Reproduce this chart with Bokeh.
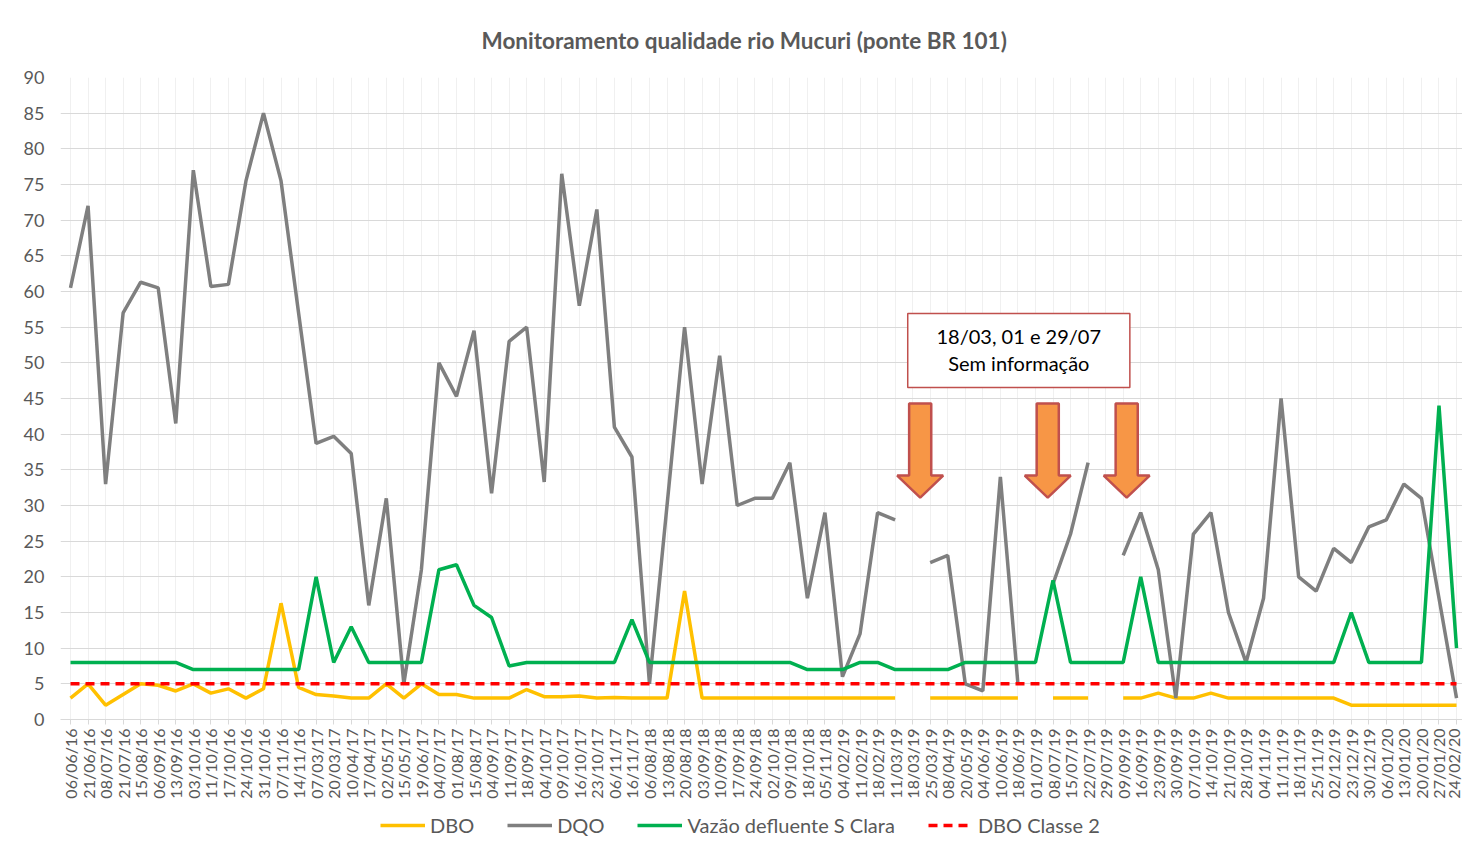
import numpy as np
from bokeh.plotting import figure
from bokeh.layouts import column
from bokeh.models import Legend, LegendItem, FixedTicker, Range1d, ColumnDataSource, Label
from bokeh.embed import file_html
from bokeh.resources import INLINE

# ---------------- data ----------------
dates = ["06/06/16", "21/06/16", "08/07/16", "21/07/16", "15/08/16", "06/09/16", "13/09/16",
         "03/10/16", "11/10/16", "17/10/16", "24/10/16", "31/10/16", "07/11/16", "14/11/16",
         "07/03/17", "20/03/17", "10/04/17", "17/04/17", "02/05/17", "15/05/17", "19/06/17",
         "04/07/17", "01/08/17", "15/08/17", "04/09/17", "11/09/17", "18/09/17", "04/10/17",
         "09/10/17", "16/10/17", "23/10/17", "06/11/17", "16/11/17", "06/08/18", "13/08/18",
         "20/08/18", "03/09/18", "10/09/18", "17/09/18", "24/09/18", "02/10/18", "09/10/18",
         "18/10/18", "05/11/18", "04/02/19", "11/02/19", "18/02/19", "11/03/19", "18/03/19",
         "25/03/19", "08/04/19", "20/05/19", "04/06/19", "10/06/19", "18/06/19", "01/07/19",
         "08/07/19", "15/07/19", "22/07/19", "29/07/19", "09/09/19", "16/09/19", "23/09/19",
         "30/09/19", "07/10/19", "14/10/19", "21/10/19", "28/10/19", "04/11/19", "11/11/19",
         "18/11/19", "25/11/19", "02/12/19", "23/12/19", "30/12/19", "06/01/20", "13/01/20",
         "20/01/20", "27/01/20", "24/02/20"]

dbo = [3, 5, 2, 3.5, 5, 4.8, 4, 5, 3.7, 4.3, 3, 4.3, 16.3, 4.5,
       3.5, 3.3, 3, 3, 5, 3, 5,
       3.5, 3.5, 3, 3, 3, 4.2, 3.2, 3.2, 3.3, 3, 3.1, 3,
       3, 3, 18, 3, 3, 3, 3, 3, 3, 3, 3, 3, 3, 3, 3,
       None, 3, 3, 3, 3, 3, 3, None, 3, 3, 3, None,
       3, 3, 3.7, 3, 3, 3.7, 3, 3, 3, 3, 3, 3, 3, 2, 2, 2, 2, 2, 2, 2]

dqo = [60.5, 72, 33, 57, 61.3, 60.5, 41.5, 77, 60.7, 61, 75.5, 85, 75.5, 57,
       38.7, 39.7, 37.3, 16, 31, 5, 21,
       50, 45.3, 54.5, 31.7, 53, 55, 33.3, 76.5, 58, 71.5, 41, 36.8,
       5, 30, 55, 33, 51, 30, 31, 31, 36, 17, 29, 6, 12, 29, 28,
       None, 22, 23, 5, 4, 34, 5, None, 19, 26, 36, None,
       23, 29, 21, 3, 26, 29, 15, 8, 17, 45, 20, 18, 24, 22, 27, 28, 33, 31, 17, 3]

vazao = [8, 8, 8, 8, 8, 8, 8, 7, 7, 7, 7, 7, 7, 7,
         20, 8, 13, 8, 8, 8, 8,
         21, 21.7, 16, 14.3, 7.5, 8, 8, 8, 8, 8, 8, 14,
         8, 8, 8, 8, 8, 8, 8, 8, 8, 7, 7, 7, 8, 8, 7,
         7, 7, 7, 8, 8, 8, 8, 8, 19.5, 8, 8, 8,
         8, 20, 8, 8, 8, 8, 8, 8, 8, 8, 8, 8, 8, 15, 8, 8, 8, 8, 44, 10]

dbo_classe2 = [5] * len(dates)

series_names = ["DBO", "DQO", "Vazão defluente S Clara", "DBO Classe 2"]
series_colors = ["#FFC000", "#7F7F7F", "#00B050", "#FF0000"]
series_dash = ["solid", "solid", "solid", "9 6"]
title_text = "Monitoramento qualidade rio Mucuri (ponte BR 101)"
note_lines = ["18/03, 01 e 29/07", "Sem informação"]
arrow_pos = [48.43, 55.7, 60.2]

# ---------------- main figure ----------------
def nanify(a):
    return [np.nan if v is None else v for v in a]

idx = list(range(len(dates)))
src = ColumnDataSource(dict(x=idx, dbo=nanify(dbo), dqo=nanify(dqo),
                            vazao=nanify(vazao), c2=dbo_classe2))

p = figure(frame_width=1402, frame_height=642, x_range=Range1d(-0.57, 79.34), y_range=Range1d(0, 90),
           output_backend="svg", toolbar_location=None,
           min_border_left=60, min_border_right=0, min_border_top=77, min_border_bottom=0)
p.outline_line_color = None
p.background_fill_color = "white"
p.border_fill_color = "white"

p.title.text = title_text
p.title.text_font = "Lato"
p.title.text_font_size = "22.5px"
p.title.text_font_style = "bold"
p.title.text_color = "#595959"
p.title.align = "left"
p.title.offset = 421
p.title.standoff = 47

# grids
p.ygrid.ticker = FixedTicker(ticks=list(range(0, 91, 5)))
p.ygrid.grid_line_color = "#D9D9D9"
p.ygrid.grid_line_width = 1
p.xgrid.ticker = FixedTicker(ticks=idx)
p.xgrid.grid_line_color = "#F0F0F0"
p.xgrid.grid_line_width = 1

# axes
p.yaxis.ticker = FixedTicker(ticks=list(range(0, 91, 5)))
p.yaxis.axis_line_color = None
p.yaxis.major_tick_line_color = None
p.yaxis.minor_tick_line_color = None
p.yaxis.major_label_standoff = 10
p.yaxis.major_label_text_font = "Lato"
p.yaxis.major_label_text_font_size = "18px"
p.yaxis.major_label_text_color = "#595959"

p.xaxis.ticker = FixedTicker(ticks=idx)
p.xaxis.major_label_overrides = {i: d for i, d in enumerate(dates)}
p.xaxis.major_label_orientation = np.pi / 2
p.xaxis.axis_line_color = "#D9D9D9"
p.xaxis.major_tick_line_color = "#D9D9D9"
p.xaxis.major_tick_in = 0
p.xaxis.major_tick_out = 5
p.xaxis.minor_tick_line_color = None
p.xaxis.major_label_standoff = 4
p.xaxis.major_label_text_font = "Lato"
p.xaxis.major_label_text_font_size = "16px"
p.xaxis.major_label_text_color = "#595959"

# series
p.line("x", "dbo", source=src, line_color=series_colors[0], line_width=3.5)
p.line("x", "dqo", source=src, line_color=series_colors[1], line_width=3.5)
p.line("x", "vazao", source=src, line_color=series_colors[2], line_width=3.5)
p.line("x", "c2", source=src, line_color=series_colors[3], line_width=3.5, line_dash=series_dash[3])

# annotation box
p.quad(left=[47.72], right=[60.38], top=[56.92], bottom=[46.54],
       fill_color="white", line_color="#C0504D", line_width=1.5)
for txt, yy in zip(note_lines, [53.8, 50.0]):
    p.add_layout(Label(x=54.05, y=yy, text=txt, text_align="center", text_baseline="middle",
                       text_font="Lato", text_font_size="20px", text_color="#000000"))

# arrows
hs, hh = 0.63, 1.31
y_top, y_neck, y_tip = 44.3, 34.2, 31.1
xs, ys = [], []
for c in arrow_pos:
    xs.append([c - hs, c + hs, c + hs, c + hh, c, c - hh, c - hs])
    ys.append([y_top, y_top, y_neck, y_neck, y_tip, y_neck, y_neck])
p.patches(xs, ys, fill_color="#F79646", line_color="#C0504D", line_width=2.5)

# ---------------- legend strip ----------------
pl = figure(frame_width=1402, frame_height=44, x_range=Range1d(0, 1), y_range=Range1d(0, 1),
            output_backend="svg", toolbar_location=None,
            x_axis_location=None, y_axis_location=None,
            min_border_left=60, min_border_right=0, min_border_top=0, min_border_bottom=0)
pl.outline_line_color = None
pl.grid.grid_line_color = None
pl.background_fill_color = "white"
pl.border_fill_color = "white"
items = []
for name, col, dash in zip(series_names, series_colors, series_dash):
    # off-screen proxy so the legend shows the series' line style
    r = pl.line(x=[5, 6], y=[5, 6], line_color=col, line_width=3.5, line_dash=dash)
    items.append(LegendItem(label=name, renderers=[r]))
legend = Legend(items=items, orientation="horizontal", location=(320, 8))
legend.label_text_font = "Lato"
legend.label_text_font_size = "20px"
legend.label_text_color = "#595959"
legend.glyph_width = 45
legend.glyph_height = 20
legend.label_height = 20
legend.label_standoff = 5
legend.spacing = 33
legend.padding = 0
legend.margin = 0
legend.border_line_color = None
legend.background_fill_alpha = 0
pl.add_layout(legend)

layout = column(p, pl, spacing=0)
open("out.html", "w").write(file_html(layout, INLINE))
